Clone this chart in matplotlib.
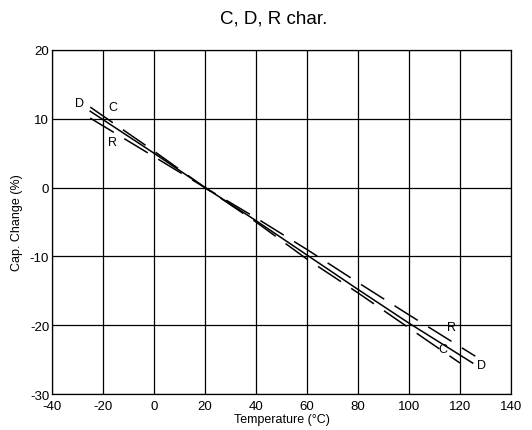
import matplotlib
matplotlib.use("Agg")
import matplotlib.pyplot as plt

plt.rcParams['font.family'] = ['Liberation Sans', 'DejaVu Sans']
plt.rcParams['axes.unicode_minus'] = False

temp_c = [-25, 0, 20, 40, 60, 80, 100, 120]
cap_c = [11.7, 5.3, 0, -5.0, -10.4, -15.3, -20.4, -25.5]
temp_d = [-25, 0, 20, 40, 60, 80, 100, 125]
cap_d = [11.1, 5.0, 0, -4.8, -9.8, -14.8, -19.7, -25.5]
temp_r = [-25, 0, 20, 40, 60, 80, 100, 126]
cap_r = [10.1, 4.5, 0, -4.4, -9.0, -13.8, -18.5, -24.5]

xticks = [-40, -20, 0, 20, 40, 60, 80, 100, 120, 140]
yticks = [-30, -20, -10, 0, 10, 20]

fig = plt.figure(figsize=(5.32, 4.31), dpi=100)
ax = fig.add_axes([0.0977, 0.0835, 0.8628, 0.7982])

ax.plot(temp_c, cap_c, color='black', lw=1.1, linestyle=(0, (18, 8)))
ax.plot(temp_d, cap_d, color='black', lw=1.1, linestyle='-')
ax.plot(temp_r, cap_r, color='black', lw=1.1, linestyle=(0, (18, 8)))

lab = dict(fontsize=9, ha='center', va='center')
ax.text(-29.4, 12.3, 'D', **lab)
ax.text(-16.1, 11.7, 'C', **lab)
ax.text(-16.1, 6.6, 'R', **lab)
ax.text(116.5, -20.2, 'R', **lab)
ax.text(113.3, -23.4, 'C', **lab)
ax.text(128.6, -25.8, 'D', **lab)

ax.set_xlim(-40, 140)
ax.set_ylim(-30, 20)
ax.set_xticks(xticks)
ax.set_yticks(yticks)
ax.tick_params(length=0, labelsize=9.5)
ax.tick_params(axis='x', pad=4)
ax.tick_params(axis='y', pad=2)
ax.grid(True, color='black', lw=0.9)
for s in ax.spines.values():
    s.set_color('black')
    s.set_linewidth(0.9)

ax.set_xlabel('Temperature (°C)', fontsize=9, labelpad=1)
ax.set_ylabel('Cap. Change (%)', fontsize=9, labelpad=5)
fig.text(0.514, 0.946, 'C, D, R char.', fontsize=13.5, ha='center', va='baseline')

fig.savefig('out.png', dpi=100)
